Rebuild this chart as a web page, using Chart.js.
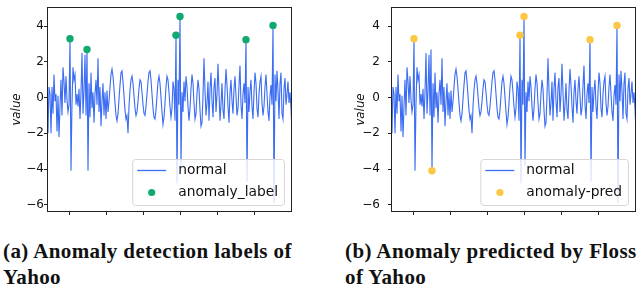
<!DOCTYPE html>
<html>
<head>
<meta charset="utf-8">
<script src="https://cdn.jsdelivr.net/npm/chart.js@4/dist/chart.umd.min.js"></script>
<style>
  body { margin: 0; background: #fff; width: 644px; height: 286px; overflow: hidden; position: relative; }
  canvas { position: absolute; top: 0; }
  .cap {
    position: absolute; top: 238px;
    font-family: "Liberation Serif", serif; font-weight: bold;
    font-size: 21px; line-height: 26px; letter-spacing: 0.4px;
    color: #111; white-space: nowrap;
  }
</style>
</head>
<body>
<canvas id="chartA" width="300" height="220" style="left:0"></canvas>
<canvas id="chartB" width="300" height="220" style="left:344px"></canvas>
<div class="cap" style="left:3px">(a) Anomaly detection labels of<br>Yahoo</div>
<div class="cap" style="left:345px">(b) Anomaly predicted by Floss<br>of Yahoo</div>

<script>
// values, one per time step
const values = [
  1.9, -2.0, 0.6, 0.2, -2.0, 0.6, -0.9, 1.3, -0.2, 0.2, -1.9, 0.1, -2.2, -0.5, 1.0, -1.0, 1.7, 0.9, -0.3, 1.2, -0.1, -0.8, -0.4,
  3.3, -4.1,
  -0.3, 1.7, 1.0, 1.3, -0.4, 0.2, -0.5, 0.5, -1.2, 0.3, 2.5, -0.9, 0.4, 2.4, -1.0,
  2.7, -4.1,
  0.8, -1.1, 1.4, -0.6, 0.3, -1.4, 0.2, 1.0, -0.4, 2.2, -0.8, 0.6, -1.6, -0.2, 0.8, -1.0, 0.3, -1.2, 0.4,
  -0.8, -0.2, 0.6, 1.3, 1.6, 1.2, 0.5, -0.3, -1.0, -1.3, -0.9, -0.1, 0.7, 1.4, 1.5, 0.9, 0.1, -0.7, -1.2, -1.0,
  -2.0, -0.5, 0.4, 1.0, 1.2, 0.8, 0.1, -0.6, -1.0, -0.8, -0.2, 0.5, 1.0, 0.9, 0.3, -0.4, -0.9, -1.0, -0.5, 0.2,
  0.9, 1.4, 1.5, 1.0, 0.2, -0.6, -1.1, -1.2, -0.7, 0.1, 0.9, 1.2, 0.8, 0.0, -0.8, -1.5, -1.1, -0.3, 0.6, 1.2, 1.0, 0.3, -0.5, -1.1, -0.6, 0.9, 0.5, -1.3,
  3.5, -4.8, 1.0, -0.4, 4.55, -3.8,
  0.3, -0.8, 0.9, -0.2, 1.2, 0.6, -0.5, -1.3, -0.6, 0.5, 1.3, 0.8, -0.3, -1.2, -0.9, 0.2, 1.0, 0.5, -0.7, -1.6, -1.4, 0.1, 2.2, 0.4, -1.0, -0.3,
  0.9, -1.3, 0.5, 1.4, -0.2, -1.1, 0.6, 1.1, -0.8, 0.2, 1.9, 0.3, -1.3, -0.4, 0.8, -0.7, -1.2, 0.4, 1.6, 0.7,
  -0.5, -1.4, 0.3, 1.0, -0.2, -0.9, 0.5, 1.2, 0.1, -1.0, -0.6, 0.7, 1.8, -0.4, -1.2, 0.2, 0.8, -0.3,
  3.25, -4.7,
  0.6, -0.8, 0.4, 1.0, -0.5, -1.2, 0.3, 1.4, 0.8, -0.6, -1.1, 0.2, 0.9, 1.2, -0.3, -1.0, -0.5, 0.6, 1.3, 0.2, -0.8, -1.3, 0.1, 0.7, -0.4,
  4.05, -5.9,
  1.3, -0.2, 1.5, 0.4, -1.2, 0.8, 1.4, -0.9, -1.2, 0.5, 1.1, -0.4, 0.2, 0.9, -0.3, 0.3, -0.6, -2.0
];

// indices of anomalous points
const labelIdx = [23, 40, 129, 133, 199, 226];
const predIdx = [23, 41, 129, 133, 199, 226];

const xTicks = [22, 59, 96, 133, 170, 207];
const yTicks = [-6, -4, -2, 0, 2, 4];

const lineColor = '#3a6cf4';

const framePlugin = {
  id: 'frame',
  afterDatasetsDraw(chart) {
    const {ctx, chartArea: a} = chart;
    ctx.save();
    ctx.strokeStyle = '#222';
    ctx.lineWidth = 1;
    ctx.strokeRect(a.left + 0.5, a.top + 0.5, a.right - a.left - 1, a.bottom - a.top - 1);
    ctx.restore();
  }
};

const legendPlugin = {
  id: 'mplLegend',
  afterDraw(chart) {
    const {ctx, chartArea: a} = chart;
    const ds = chart.data.datasets;
    ctx.save();
    ctx.font = '13.8px "DejaVu Sans"';
    const w = Math.max(...ds.map(d => ctx.measureText(d.label).width));
    const boxW = 46 + w + 6, boxH = 46;
    const x0 = a.right - 8 - boxW, y0 = a.bottom - 7 - boxH;
    ctx.beginPath();
    ctx.roundRect(x0 + 0.5, y0 + 0.5, boxW, boxH, 3);
    ctx.fillStyle = 'rgba(255,255,255,0.8)';
    ctx.fill();
    ctx.strokeStyle = '#d6d6d6';
    ctx.stroke();
    // line sample
    ctx.strokeStyle = lineColor;
    ctx.lineWidth = 1.3;
    ctx.beginPath();
    ctx.moveTo(x0 + 5, y0 + 11.5);
    ctx.lineTo(x0 + 34, y0 + 11.5);
    ctx.stroke();
    // marker sample
    ctx.fillStyle = ds[1].backgroundColor;
    ctx.beginPath();
    ctx.arc(x0 + 19.5, y0 + 33.5, 3.6, 0, Math.PI * 2);
    ctx.fill();
    ctx.fillStyle = '#111';
    ctx.textBaseline = 'middle';
    ctx.fillText(ds[0].label, x0 + 46, y0 + 11.5);
    ctx.fillText(ds[1].label, x0 + 46, y0 + 33.5);
    ctx.restore();
  }
};

function makeChart(id, idx, color, label, tickPad) {
  new Chart(document.getElementById(id), {
    type: 'scatter',
    data: {
      datasets: [
        {
          label: 'normal',
          data: values.map((v, i) => ({x: i, y: v})),
          showLine: true,
          borderColor: lineColor,
          borderWidth: 1.1,
          pointRadius: 0,
          order: 1
        },
        {
          label: label,
          data: idx.map(i => ({x: i, y: values[i]})),
          backgroundColor: color,
          borderWidth: 0,
          pointRadius: 3.7,
          order: 0
        }
      ]
    },
    options: {
      responsive: false,
      animation: false,
      layout: { padding: { left: 0, top: 7, right: 8, bottom: 0 } },
      plugins: {
        legend: { display: false },
        tooltip: { enabled: false }
      },
      scales: {
        x: {
          type: 'linear',
          min: 0,
          max: values.length - 1,
          afterBuildTicks: s => { s.ticks = xTicks.map(v => ({value: v})); },
          afterFit: s => { s.height = 8; },
          ticks: { display: false },
          grid: { display: true, drawOnChartArea: false, tickLength: 3, color: '#222' },
          border: { display: false }
        },
        y: {
          min: -6.41,
          max: 5.08,
          afterBuildTicks: s => { s.ticks = yTicks.map(v => ({value: v})); },
          afterFit: s => {
            s.width = 47;
            s.paddingTop = 0;
            s.paddingBottom = 0;
          },
          ticks: {
            padding: tickPad,
            color: '#111',
            font: { family: 'DejaVu Sans', size: 12 },
            callback: v => v < 0 ? '\u2212' + Math.abs(v) : String(v)
          },
          grid: { display: true, drawOnChartArea: false, tickLength: 3, color: '#222' },
          border: { display: false },
          title: {
            display: true,
            text: 'value',
            color: '#111',
            font: { family: 'DejaVu Sans', size: 11.8, style: 'italic' },
            padding: { top: 10, bottom: 0 }
          }
        }
      }
    },
    plugins: [framePlugin, legendPlugin]
  });
}

makeChart('chartA', labelIdx, '#10aa6e', 'anomaly_label', 0);
makeChart('chartB', predIdx, '#fcc742', 'anomaly-pred', 8);
</script>
</body>
</html>
